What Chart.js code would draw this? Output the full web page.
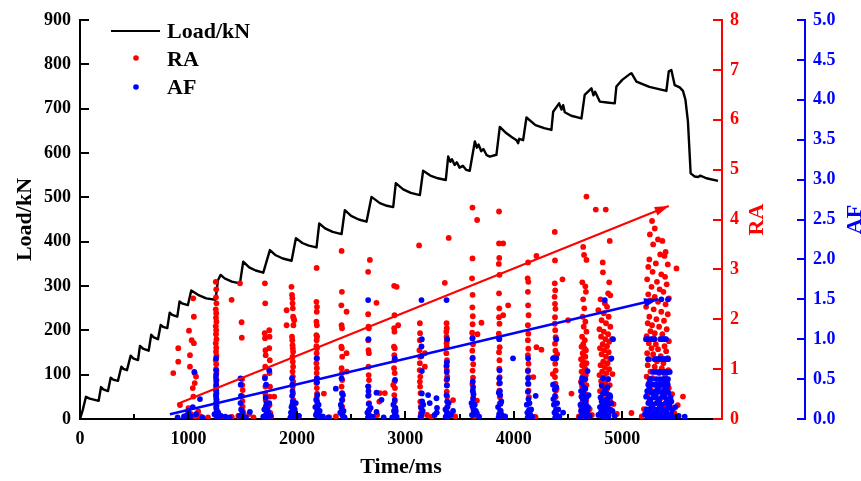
<!DOCTYPE html>
<html>
<head>
<meta charset="utf-8">
<script src="https://cdn.jsdelivr.net/npm/chart.js@4.4.0/dist/chart.umd.min.js"></script>
<style>
  html, body { margin: 0; padding: 0; background: #fff; }
</style>
</head>
<body>
<canvas id="loadChart" width="861" height="481"></canvas>
<script>
// Axis tick values
const timeTicks = [0, 1000, 2000, 3000, 4000, 5000];
const timeMinorTicks = [500, 1500, 2500, 3500, 4500, 5500];

// Load curve (time in ms, load in kN)
const loadTime = [0, 25, 55, 90, 172, 194, 215, 258, 283, 305, 350, 381, 400, 433, 467, 490, 535, 553, 580, 633,
  657, 680, 719, 744, 765, 805, 827, 850, 897, 918, 940, 995, 1026, 1088, 1164, 1250, 1272, 1297, 1334, 1400,
  1475, 1505, 1560, 1620, 1690, 1751, 1800, 1870, 1951, 1991, 2050, 2110, 2181, 2206, 2260, 2330, 2412, 2442, 2500, 2570,
  2642, 2688, 2765, 2830, 2888, 2912, 2980, 3050, 3134, 3164, 3230, 3300, 3373, 3395, 3415, 3430, 3455, 3475, 3500, 3530,
  3560, 3594, 3641, 3660, 3675, 3700, 3720, 3750, 3779, 3840, 3871, 3930, 3980, 4025, 4040, 4050, 4086, 4117, 4200, 4280,
  4347, 4363, 4418, 4440, 4455, 4470, 4530, 4624, 4654, 4716, 4735, 4750, 4793, 4860, 4931, 4946, 5000, 5069, 5085, 5131,
  5250, 5407, 5429, 5453, 5484, 5530, 5560, 5583, 5606, 5631, 5668, 5700, 5720, 5776, 5883];
const loadValue = [0, 20, 50, 46, 41, 72, 67, 63, 93, 89, 86, 118, 113, 110, 143, 137, 133, 165, 159, 154,
  190, 184, 180, 212, 208, 205, 240, 235, 231, 265, 261, 257, 290, 280, 272, 269, 313, 325, 317, 310,
  306, 355, 342, 335, 330, 381, 370, 362, 357, 408, 397, 391, 387, 441, 430, 422, 417, 471, 458, 450,
  445, 501, 487, 481, 478, 532, 518, 510, 505, 560, 549, 543, 539, 592, 580, 586, 573, 579, 567, 571,
  562, 560, 626, 612, 619, 604, 609, 595, 592, 596, 659, 645, 636, 629, 622, 632, 629, 680, 663, 656,
  652, 693, 712, 698, 708, 692, 684, 678, 731, 746, 730, 738, 716, 714, 712, 750, 765, 778, 780, 761,
  749, 740, 784, 787, 753, 748, 740, 720, 671, 554, 547, 546, 549, 543, 537];

// RA scatter [time ms, RA]
const raPoints = [
  [860, 0.92], [906, 1.15], [906, 1.42], [922, 0.28], [960, 0.05], [1000, 0.22], [1005, 1.77], [1014, 1.05], [1014, 1.28], [1020, 0.1],
  [1030, 1.58], [1040, 0.62], [1044, 2.42], [1045, 0.45], [1050, 2.05], [1050, 1.52], [1058, 0.92], [1058, 0.72], [1060, 0.05], [1070, 0.85],
  [1090, 0.15], [1110, 0.05], [1180, 0.03],
  [1252, 2.75], [1256, 2.6], [1254, 2.44], [1258, 2.32], [1252, 2.2], [1256, 2.12], [1254, 2.03], [1258, 1.95], [1252, 1.86], [1256, 1.78],
  [1254, 1.7], [1258, 1.6], [1252, 1.52], [1256, 1.43], [1254, 1.35], [1258, 1.27], [1252, 1.18], [1256, 1.1], [1254, 1.0], [1258, 0.92],
  [1252, 0.83], [1256, 0.75], [1254, 0.65], [1258, 0.57], [1252, 0.48], [1256, 0.4], [1260, 0.3], [1254, 0.22], [1262, 0.12], [1258, 0.05],
  [1300, 0.05], [1330, 0.03], [1398, 2.39], [1400, 0.04], [1460, 0.06],
  [1475, 2.72], [1490, 1.94], [1492, 1.63], [1495, 0.8], [1497, 0.68], [1500, 0.58], [1495, 0.46], [1498, 0.36], [1500, 0.25], [1502, 0.15],
  [1505, 0.08], [1560, 0.1], [1600, 0.03],
  [1705, 2.72], [1708, 2.32], [1703, 1.72], [1706, 1.62], [1710, 1.38], [1712, 1.28], [1708, 1.05], [1706, 0.85], [1710, 0.65], [1708, 0.51],
  [1712, 0.38], [1714, 0.25], [1745, 1.78], [1748, 1.65], [1745, 1.42], [1750, 1.18], [1748, 0.92], [1752, 0.65], [1750, 0.45], [1748, 0.28],
  [1755, 0.12], [1791, 0.45], [1720, 0.06], [1760, 0.04],
  [1905, 2.18], [1905, 1.88], [1950, 2.65], [1955, 2.49], [1958, 2.42], [1960, 2.32], [1962, 2.22], [1965, 2.05], [1970, 2.02], [1975, 1.98],
  [1968, 1.88], [1955, 1.65], [1958, 1.58], [1960, 1.48], [1962, 1.42], [1965, 1.35], [1960, 1.25], [1962, 1.15], [1965, 1.05], [1960, 0.95],
  [1963, 0.85], [1966, 0.75], [1962, 0.65], [1965, 0.51], [1968, 0.38], [1970, 0.25], [1972, 0.15], [1975, 0.06], [2010, 0.05],
  [2182, 3.03], [2180, 2.35], [2185, 2.25], [2183, 2.15], [2180, 1.95], [2184, 1.88], [2180, 1.68], [2186, 1.65], [2182, 1.58], [2180, 1.46],
  [2185, 1.42], [2182, 1.32], [2186, 1.22], [2180, 1.12], [2184, 1.02], [2182, 0.92], [2186, 0.82], [2180, 0.72], [2184, 0.62], [2186, 0.51],
  [2182, 0.42], [2188, 0.28], [2190, 0.18], [2192, 0.08], [2249, 0.51], [2230, 0.05], [2300, 0.03],
  [2412, 3.37], [2415, 2.55], [2410, 2.28], [2458, 2.15], [2412, 1.88], [2416, 1.82], [2410, 1.45], [2414, 1.42], [2458, 1.32], [2418, 1.25],
  [2412, 1.02], [2460, 0.95], [2415, 0.92], [2418, 0.78], [2412, 0.65], [2416, 0.52], [2420, 0.38], [2418, 0.25], [2422, 0.15], [2425, 0.06],
  [2360, 0.05],
  [2673, 3.19], [2657, 2.95], [2734, 2.33], [2657, 2.1], [2660, 1.85], [2663, 1.82], [2658, 1.58], [2660, 1.38], [2664, 1.32], [2660, 1.05],
  [2662, 0.88], [2665, 0.78], [2660, 0.65], [2663, 0.48], [2666, 0.32], [2668, 0.18], [2670, 0.06], [2765, 0.52], [2811, 0.52], [2760, 0.35],
  [2740, 0.08],
  [2897, 2.67], [2920, 2.65], [2900, 2.08], [2934, 1.88], [2897, 1.82], [2900, 1.75], [2895, 1.45], [2902, 1.42], [2898, 1.28], [2900, 1.18],
  [2896, 1.02], [2902, 0.92], [2900, 0.75], [2904, 0.62], [2898, 0.48], [2902, 0.35], [2906, 0.22], [2908, 0.12], [2910, 0.05], [2888, 0.68],
  [3127, 3.48], [3134, 1.92], [3136, 1.72], [3134, 1.58], [3130, 1.38], [3180, 1.32], [3136, 1.25], [3134, 1.12], [3180, 1.05], [3132, 0.98],
  [3138, 0.85], [3134, 0.75], [3136, 0.65], [3140, 0.52], [3138, 0.35], [3142, 0.25], [3144, 0.12], [3148, 0.05], [3200, 0.08], [3240, 0.04],
  [3400, 3.63], [3364, 2.73], [3380, 1.92], [3382, 1.82], [3378, 1.75], [3380, 1.65], [3384, 1.58], [3380, 1.52], [3382, 1.45], [3378, 1.32],
  [3384, 1.18], [3380, 1.05], [3382, 0.98], [3386, 0.85], [3380, 0.78], [3384, 0.68], [3382, 0.55], [3386, 0.45], [3440, 0.38], [3388, 0.25],
  [3390, 0.12], [3392, 0.05], [3460, 0.05],
  [3619, 4.24], [3662, 3.99], [3619, 3.22], [3615, 2.82], [3620, 2.49], [3618, 2.24], [3622, 2.06], [3702, 1.93], [3620, 1.9], [3616, 1.73],
  [3665, 1.7], [3620, 1.63], [3624, 1.5], [3618, 1.37], [3622, 1.23], [3626, 1.1], [3620, 0.97], [3624, 0.83], [3618, 0.7], [3622, 0.57],
  [3626, 0.43], [3660, 0.37], [3628, 0.3], [3630, 0.17], [3634, 0.06],
  [3864, 4.16], [3864, 3.52], [3902, 3.52], [3866, 3.23], [3862, 3.11], [3868, 2.89], [3864, 2.52], [3948, 2.28], [3866, 2.22], [3902, 2.08],
  [3864, 2.04], [3868, 1.91], [3862, 1.71], [3866, 1.61], [3870, 1.44], [3864, 1.34], [3868, 1.18], [3866, 1.01], [3870, 0.84], [3864, 0.71],
  [3868, 0.57], [3872, 0.44], [3870, 0.31], [3874, 0.17], [3878, 0.06], [3920, 0.05],
  [4132, 3.14], [4209, 3.27], [4128, 2.82], [4134, 2.75], [4130, 2.55], [4132, 2.28], [4136, 2.08], [4130, 1.88], [4134, 1.71], [4130, 1.58],
  [4209, 1.44], [4255, 1.39], [4134, 1.41], [4130, 1.28], [4136, 1.11], [4132, 0.98], [4136, 0.84], [4180, 0.84], [4130, 0.71], [4136, 0.57],
  [4140, 0.44], [4138, 0.31], [4142, 0.17], [4146, 0.06], [4200, 0.04],
  [4378, 3.75], [4380, 3.18], [4449, 2.8], [4378, 2.72], [4382, 2.58], [4376, 2.45], [4380, 2.31], [4384, 2.21], [4380, 2.04], [4501, 1.98],
  [4378, 1.91], [4382, 1.78], [4386, 1.64], [4380, 1.51], [4384, 1.37], [4378, 1.24], [4382, 1.11], [4386, 0.97], [4380, 0.84], [4384, 0.71],
  [4388, 0.57], [4532, 0.51], [4386, 0.44], [4390, 0.31], [4392, 0.17], [4396, 0.06], [4360, 0.9], [4400, 1.3], [4395, 0.6],
  [4670, 4.46], [4640, 3.45], [4648, 3.29], [4670, 3.19], [4632, 2.74], [4660, 2.66], [4665, 2.55], [4640, 2.4], [4650, 2.22], [4635, 2.05],
  [4660, 1.95], [4645, 1.85], [4670, 1.75], [4630, 1.65], [4655, 1.58], [4640, 1.5], [4625, 1.45], [4650, 1.42], [4665, 1.38], [4635, 1.32],
  [4645, 1.28], [4660, 1.25], [4620, 1.2], [4640, 1.15], [4670, 1.12], [4630, 1.08], [4650, 1.05], [4660, 1.0], [4625, 0.95], [4645, 0.92],
  [4665, 0.88], [4635, 0.85], [4655, 0.8], [4620, 0.75], [4645, 0.72], [4670, 0.68], [4630, 0.65], [4650, 0.6], [4640, 0.55], [4660, 0.5],
  [4625, 0.45], [4648, 0.42], [4668, 0.38], [4635, 0.35], [4655, 0.3], [4620, 0.25], [4645, 0.22], [4670, 0.18], [4630, 0.15], [4655, 0.1],
  [4640, 0.06], [4680, 0.04], [4700, 0.2], [4720, 0.08], [4600, 0.05],
  [4756, 4.2], [4848, 4.2], [4885, 3.57], [4820, 3.14], [4822, 2.94], [4880, 2.74], [4870, 2.52], [4890, 2.48], [4800, 2.4], [4840, 2.32],
  [4860, 2.25], [4780, 2.18], [4830, 2.12], [4875, 2.05], [4810, 1.98], [4850, 1.92], [4890, 1.85], [4790, 1.8], [4830, 1.75], [4870, 1.7],
  [4805, 1.65], [4845, 1.6], [4880, 1.55], [4820, 1.5], [4860, 1.46], [4795, 1.42], [4835, 1.38], [4875, 1.34], [4810, 1.3], [4850, 1.25],
  [4890, 1.2], [4825, 1.15], [4865, 1.12], [4800, 1.08], [4840, 1.04], [4880, 1.0], [4815, 0.95], [4855, 0.92], [4790, 0.88], [4830, 0.84],
  [4870, 0.8], [4805, 0.76], [4845, 0.72], [4885, 0.68], [4820, 0.64], [4860, 0.6], [4795, 0.56], [4835, 0.52], [4875, 0.48], [4810, 0.44],
  [4850, 0.4], [4890, 0.36], [4825, 0.32], [4865, 0.28], [4800, 0.24], [4840, 0.2], [4880, 0.16], [4815, 0.12], [4855, 0.08], [4830, 0.04],
  [4920, 0.3], [4950, 0.1], [4905, 1.6], [4910, 0.9], [5085, 0.12],
  [5275, 3.97], [5300, 3.82], [5255, 3.7], [5330, 3.6], [5370, 3.57], [5285, 3.5], [5400, 3.35], [5390, 3.27], [5500, 3.02], [5350, 3.3],
  [5250, 3.2], [5310, 3.12], [5420, 3.1], [5240, 3.05], [5280, 2.95], [5360, 2.9], [5395, 2.85], [5230, 2.8], [5320, 2.75], [5410, 2.7],
  [5270, 2.65], [5345, 2.6], [5380, 2.55], [5240, 2.5], [5300, 2.45], [5430, 2.42], [5260, 2.38], [5330, 2.35], [5400, 2.3], [5220, 2.25],
  [5290, 2.2], [5360, 2.15], [5420, 2.1], [5250, 2.05], [5315, 2.0], [5385, 1.97], [5235, 1.92], [5275, 1.88], [5340, 1.85], [5410, 1.8],
  [5260, 1.76], [5300, 1.72], [5370, 1.7], [5225, 1.66], [5290, 1.62], [5350, 1.6], [5430, 1.56], [5245, 1.52], [5310, 1.5], [5390, 1.46],
  [5270, 1.42], [5330, 1.4], [5405, 1.36], [5230, 1.32], [5285, 1.3], [5355, 1.26], [5420, 1.22], [5250, 1.2], [5320, 1.16], [5380, 1.12],
  [5235, 1.08], [5300, 1.05], [5365, 1.02], [5425, 0.98], [5260, 0.95], [5340, 0.92], [5395, 0.88], [5225, 0.85], [5280, 0.82], [5350, 0.78],
  [5415, 0.75], [5245, 0.72], [5310, 0.68], [5375, 0.65], [5430, 0.62], [5265, 0.58], [5325, 0.55], [5390, 0.52], [5230, 0.48], [5295, 0.45],
  [5360, 0.42], [5420, 0.38], [5250, 0.35], [5315, 0.32], [5380, 0.28], [5440, 0.25], [5270, 0.22], [5335, 0.18], [5400, 0.15], [5240, 0.12],
  [5300, 0.08], [5365, 0.05], [5430, 0.03], [5460, 0.5], [5480, 0.12], [5512, 0.28], [5560, 0.45], [5200, 0.2], [5180, 0.05]
];

// AF scatter [time ms, AF]
const afPoints = [
  [1054, 0.59], [1106, 0.25], [1000, 0.1], [988, 0.05], [960, 0.03], [1020, 0.04], [1070, 0.06], [1130, 0.02], [900, 0.02], [1040, 0.15],
  [1255, 0.76], [1257, 0.61], [1255, 0.55], [1258, 0.49], [1256, 0.43], [1254, 0.36], [1258, 0.32], [1256, 0.28], [1260, 0.24], [1254, 0.2],
  [1258, 0.16], [1262, 0.11], [1256, 0.07], [1260, 0.03], [1340, 0.03], [1380, 0.02], [1300, 0.04], [1240, 0.06], [1275, 0.08], [1285, 0.03],
  [1480, 0.51], [1482, 0.43], [1484, 0.29], [1480, 0.2], [1486, 0.12], [1488, 0.05], [1567, 0.09], [1530, 0.02], [1470, 0.04], [1500, 0.08],
  [1705, 0.51], [1745, 0.61], [1716, 0.43], [1712, 0.27], [1720, 0.2], [1716, 0.16], [1722, 0.1], [1718, 0.06], [1726, 0.02], [1760, 0.04],
  [1700, 0.12], [1735, 0.09], [1690, 0.03], [1745, 0.2], [1708, 0.04], [1730, 0.14],
  [1955, 0.51], [1958, 0.43], [1960, 0.35], [1956, 0.29], [1962, 0.22], [1958, 0.18], [1964, 0.14], [1960, 0.1], [1966, 0.05], [1970, 0.03],
  [1990, 0.2], [2020, 0.04], [1945, 0.08], [1980, 0.12], [1940, 0.02], [1950, 0.15], [1975, 0.07],
  [2182, 0.76], [2184, 0.51], [2186, 0.46], [2188, 0.3], [2186, 0.22], [2190, 0.13], [2184, 0.08], [2192, 0.04], [2200, 0.18], [2210, 0.1],
  [2359, 0.38], [2240, 0.03], [2290, 0.02], [2170, 0.15], [2175, 0.05], [2205, 0.03], [2178, 0.24], [2196, 0.06],
  [2412, 0.51], [2418, 0.32], [2416, 0.24], [2412, 0.14], [2418, 0.05], [2425, 0.3], [2430, 0.1], [2440, 0.02], [2400, 0.08], [2405, 0.18],
  [2657, 1.49], [2660, 1.0], [2657, 0.41], [2660, 0.35], [2657, 0.29], [2662, 0.19], [2664, 0.11], [2734, 0.33], [2780, 0.24], [2734, 0.09],
  [2670, 0.04], [2700, 0.03], [2800, 0.02], [2650, 0.08], [2680, 0.14], [2655, 0.02],
  [2903, 0.76], [2905, 0.49], [2903, 0.24], [2908, 0.14], [2904, 0.06], [2912, 0.1], [2920, 0.03], [2880, 0.02], [2890, 0.18], [2895, 0.1],
  [3149, 1.49], [3152, 1.0], [3149, 0.91], [3149, 0.79], [3152, 0.6], [3152, 0.32], [3155, 0.22], [3145, 0.14], [3149, 0.06], [3210, 0.3],
  [3225, 0.2], [3290, 0.08], [3292, 0.14], [3270, 0.05], [3287, 0.26], [3160, 0.1], [3140, 0.03], [3165, 0.18],
  [3380, 1.49], [3385, 1.0], [3383, 0.71], [3380, 0.67], [3382, 0.59], [3385, 0.5], [3383, 0.42], [3380, 0.3], [3386, 0.22], [3388, 0.15],
  [3384, 0.08], [3390, 0.03], [3420, 0.05], [3440, 0.1], [3370, 0.12], [3400, 0.2], [3395, 0.06], [3372, 0.03],
  [3619, 1.01], [3619, 0.76], [3622, 0.47], [3625, 0.4], [3622, 0.35], [3628, 0.31], [3625, 0.25], [3619, 0.16], [3628, 0.13], [3650, 0.1],
  [3660, 0.07], [3630, 0.06], [3680, 0.03], [3610, 0.2], [3640, 0.18], [3615, 0.05], [3635, 0.1],
  [3866, 1.0], [3869, 0.61], [3866, 0.51], [3872, 0.45], [3872, 0.35], [3862, 0.33], [3875, 0.3], [3878, 0.19], [3993, 0.76], [3880, 0.1],
  [3890, 0.05], [3920, 0.03], [3855, 0.15], [3865, 0.06], [3885, 0.22], [3860, 0.02],
  [4132, 0.76], [4130, 0.6], [4132, 0.51], [4135, 0.44], [4130, 0.34], [4202, 0.29], [4135, 0.25], [4140, 0.11], [4150, 0.06], [4170, 0.03],
  [4120, 0.18], [4125, 0.08], [4145, 0.2], [4160, 0.12], [4128, 0.02],
  [4392, 1.0], [4362, 0.76], [4392, 0.76], [4362, 0.43], [4392, 0.4], [4378, 0.37], [4380, 0.29], [4400, 0.2], [4455, 0.08], [4390, 0.12],
  [4395, 0.05], [4420, 0.03], [4370, 0.18], [4375, 0.08], [4410, 0.12], [4365, 0.25], [4382, 0.02],
  [4630, 0.51], [4660, 0.5], [4680, 0.6], [4620, 0.35], [4650, 0.29], [4635, 0.25], [4665, 0.19], [4625, 0.45], [4640, 0.15], [4655, 0.12],
  [4670, 0.08], [4630, 0.05], [4680, 0.1], [4700, 0.04], [4610, 0.02], [4645, 0.4], [4690, 0.3], [4660, 0.22], [4615, 0.18], [4650, 0.06],
  [4675, 0.28], [4620, 0.1], [4640, 0.33], [4660, 0.38], [4685, 0.15], [4625, 0.28], [4665, 0.03],
  [4839, 1.49], [4915, 1.0], [4900, 0.76], [4823, 0.51], [4870, 0.5], [4810, 0.42], [4840, 0.36], [4823, 0.32], [4885, 0.3], [4800, 0.27],
  [4860, 0.25], [4830, 0.22], [4880, 0.19], [4815, 0.16], [4850, 0.14], [4890, 0.12], [4805, 0.09], [4845, 0.07], [4875, 0.05], [4820, 0.03],
  [4910, 0.1], [4930, 0.04], [4780, 0.05], [4865, 0.4], [4795, 0.15], [4835, 0.1], [4870, 0.02], [4900, 0.2], [4855, 0.32], [4890, 0.28],
  [4810, 0.22], [4845, 0.18], [4860, 0.08],
  [5361, 1.5], [5422, 1.5],
  [5219, 1.0], [5235, 1.0], [5266, 1.0], [5296, 1.0], [5357, 1.0], [5373, 1.0], [5388, 1.0], [5404, 1.0],
  [5238, 0.75], [5300, 0.75], [5315, 0.75], [5330, 0.75], [5346, 0.75], [5361, 0.75], [5376, 0.75], [5392, 0.75], [5407, 0.75], [5422, 0.75],
  [5284, 0.59], [5315, 0.59], [5346, 0.59], [5376, 0.59], [5392, 0.59], [5407, 0.59], [5422, 0.59], [5438, 0.59],
  [5253, 0.5], [5269, 0.5], [5315, 0.5], [5346, 0.5], [5376, 0.5], [5392, 0.5], [5407, 0.5], [5422, 0.5],
  [5240, 0.43], [5260, 0.43], [5290, 0.43], [5320, 0.43], [5350, 0.43], [5380, 0.43], [5400, 0.43], [5420, 0.43],
  [5230, 0.35], [5270, 0.33], [5310, 0.35], [5350, 0.34], [5390, 0.36], [5425, 0.33], [5250, 0.38], [5330, 0.38], [5410, 0.38],
  [5220, 0.28], [5255, 0.25], [5290, 0.27], [5330, 0.25], [5370, 0.28], [5410, 0.25], [5445, 0.27], [5310, 0.3], [5390, 0.3],
  [5240, 0.2], [5280, 0.18], [5320, 0.2], [5360, 0.18], [5400, 0.2], [5435, 0.18], [5453, 0.22], [5260, 0.22], [5340, 0.22],
  [5225, 0.12], [5265, 0.14], [5305, 0.12], [5345, 0.14], [5385, 0.12], [5425, 0.14], [5460, 0.12], [5285, 0.1], [5365, 0.1],
  [5210, 0.06], [5250, 0.08], [5290, 0.06], [5330, 0.08], [5370, 0.06], [5410, 0.08], [5450, 0.06], [5270, 0.05], [5390, 0.05],
  [5235, 0.02], [5275, 0.03], [5315, 0.02], [5355, 0.03], [5395, 0.02], [5440, 0.03], [5480, 0.02], [5520, 0.04], [5576, 0.03], [5490, 0.15]
];

// Trend arrows (start, tip)
const raArrow = [[897, 0.3], [5429, 4.27]];
const afArrow = [[829, 0.06], [5330, 1.5]];

const serif = '"Liberation Serif", "Times New Roman", serif';
const tickFont = { family: serif, size: 18, weight: 'bold' };
const titleFont = { family: serif, size: 22, weight: 'bold' };

const toXY = arr => arr.map(p => ({ x: p[0], y: p[1] }));

function drawArrowHead(ctx, meta, color) {
    const pts = meta.data;
    const a = pts[0], b = pts[pts.length - 1];
    const ang = Math.atan2(b.y - a.y, b.x - a.x);
    const len = 14, half = 4.5;
    const bx = b.x - len * Math.cos(ang), by = b.y - len * Math.sin(ang);
    ctx.beginPath();
    ctx.moveTo(b.x, b.y);
    ctx.lineTo(bx + half * Math.sin(ang), by - half * Math.cos(ang));
    ctx.lineTo(bx - half * Math.sin(ang), by + half * Math.cos(ang));
    ctx.closePath();
    ctx.fillStyle = color;
    ctx.fill();
}

function vTitle(ctx, text, x, y, color) {
    ctx.save();
    ctx.translate(x, y);
    ctx.rotate(-Math.PI / 2);
    ctx.fillStyle = color;
    ctx.font = 'bold 22px ' + serif;
    ctx.textAlign = 'center';
    ctx.textBaseline = 'middle';
    ctx.fillText(text, 0, 0);
    ctx.restore();
}

function tickLine(ctx, x1, y1, x2, y2) {
    ctx.beginPath();
    ctx.moveTo(x1, y1);
    ctx.lineTo(x2, y2);
    ctx.stroke();
}

// inward tick marks, right-axis titles, legend, arrow heads
const decor = {
    id: 'decor',
    afterDatasetsDraw(chart) {
        const ctx = chart.ctx;
        ctx.save();
        drawArrowHead(ctx, chart.getDatasetMeta(3), '#ff0000');
        drawArrowHead(ctx, chart.getDatasetMeta(4), '#0000ff');
        ctx.restore();
    },
    afterDraw(chart) {
        const { ctx, chartArea, scales } = chart;
        const bottom = chartArea.bottom;
        ctx.save();
        ctx.lineWidth = 2;
        ctx.lineCap = 'butt';

        ctx.strokeStyle = '#000000';
        timeTicks.forEach(v => {
            const px = Math.round(scales.x.getPixelForValue(v));
            tickLine(ctx, px, bottom, px, bottom - 8);
        });
        timeMinorTicks.forEach(v => {
            const px = Math.round(scales.x.getPixelForValue(v));
            tickLine(ctx, px, bottom, px, bottom - 5);
        });
        scales.y.ticks.forEach(t => {
            const py = Math.round(scales.y.getPixelForValue(t.value));
            tickLine(ctx, chartArea.left, py, chartArea.left + 9, py);
        });

        ctx.strokeStyle = '#ff0000';
        scales.yRA.ticks.forEach(t => {
            const py = Math.round(scales.yRA.getPixelForValue(t.value));
            tickLine(ctx, scales.yRA.left, py, scales.yRA.left - 9, py);
        });

        ctx.strokeStyle = '#0000ff';
        scales.yAF.ticks.forEach(t => {
            const py = Math.round(scales.yAF.getPixelForValue(t.value));
            tickLine(ctx, scales.yAF.left, py, scales.yAF.left - 8, py);
        });

        const midY = (chartArea.top + chartArea.bottom) / 2;
        vTitle(ctx, 'RA', scales.yRA.left + 35, midY, '#ff0000');
        vTitle(ctx, 'AF', scales.yAF.left + 50, midY, '#0000ff');

        // legend
        ctx.strokeStyle = '#000000';
        tickLine(ctx, 111, 31, 160, 31);
        ctx.fillStyle = '#ff0000';
        ctx.beginPath(); ctx.arc(136, 58, 2.8, 0, Math.PI * 2); ctx.fill();
        ctx.fillStyle = '#0000ff';
        ctx.beginPath(); ctx.arc(136, 87, 2.8, 0, Math.PI * 2); ctx.fill();
        ctx.fillStyle = '#000000';
        ctx.font = 'bold 22px ' + serif;
        ctx.textAlign = 'left';
        ctx.textBaseline = 'middle';
        ctx.fillText('Load/kN', 167, 32);
        ctx.fillText('RA', 167, 60);
        ctx.fillText('AF', 167, 88);
        ctx.restore();
    }
};

new Chart(document.getElementById('loadChart'), {
    type: 'scatter',
    data: {
        datasets: [
            {
                label: 'AF',
                data: toXY(afPoints),
                yAxisID: 'yAF',
                backgroundColor: '#0000ff',
                borderWidth: 0,
                pointRadius: 2.9,
                order: 1
            },
            {
                label: 'RA',
                data: toXY(raPoints),
                yAxisID: 'yRA',
                backgroundColor: '#ff0000',
                borderWidth: 0,
                pointRadius: 2.9,
                order: 2
            },
            {
                type: 'line',
                label: 'Load/kN',
                data: loadTime.map((t, i) => ({ x: t, y: loadValue[i] })),
                yAxisID: 'y',
                borderColor: '#000000',
                borderWidth: 2.4,
                pointRadius: 0,
                tension: 0,
                borderJoinStyle: 'round',
                order: 3
            },
            {
                type: 'line',
                label: 'RA trend',
                data: toXY(raArrow),
                yAxisID: 'yRA',
                borderColor: '#ff0000',
                borderWidth: 2,
                pointRadius: 0,
                order: 0
            },
            {
                type: 'line',
                label: 'AF trend',
                data: toXY(afArrow),
                yAxisID: 'yAF',
                borderColor: '#0000ff',
                borderWidth: 2.5,
                pointRadius: 0,
                order: 0
            }
        ]
    },
    options: {
        responsive: false,
        animation: false,
        devicePixelRatio: 1,
        layout: { padding: { top: 20, right: 0, bottom: 0, left: 0 } },
        plugins: {
            legend: { display: false },
            tooltip: { enabled: false }
        },
        scales: {
            x: {
                type: 'linear',
                min: 0,
                max: 5920,
                border: { color: '#000000', width: 2 },
                grid: { display: false, drawTicks: false },
                afterBuildTicks: s => { s.ticks = timeTicks.map(v => ({ value: v })); },
                afterFit: s => { s.height = 62; },
                ticks: {
                    autoSkip: false,
                    color: '#000000',
                    font: tickFont,
                    padding: 10,
                    maxRotation: 0,
                    callback: v => String(v)
                },
                title: { display: true, text: 'Time/ms', color: '#000000', font: titleFont, padding: 0 }
            },
            y: {
                position: 'left',
                min: 0,
                max: 900,
                border: { color: '#000000', width: 2 },
                grid: { display: false, drawTicks: false },
                afterFit: s => { s.width = 80; },
                ticks: { stepSize: 100, color: '#000000', font: tickFont, padding: 9, callback: v => String(v) },
                title: { display: true, text: 'Load/kN', color: '#000000', font: titleFont, padding: { top: 12, bottom: 0 } }
            },
            yRA: {
                position: 'right',
                min: 0,
                max: 8,
                border: { color: '#ff0000', width: 2 },
                grid: { display: false, drawTicks: false },
                afterFit: s => { s.width = 83; },
                ticks: { stepSize: 1, color: '#ff0000', font: tickFont, padding: 8, callback: v => String(v) }
            },
            yAF: {
                position: 'right',
                min: 0,
                max: 5,
                border: { color: '#0000ff', width: 2 },
                grid: { display: false, drawTicks: false },
                afterFit: s => { s.width = 56; },
                ticks: { stepSize: 0.5, color: '#0000ff', font: tickFont, padding: 8, callback: v => v.toFixed(1) }
            }
        }
    },
    plugins: [decor]
});
</script>
</body>
</html>
